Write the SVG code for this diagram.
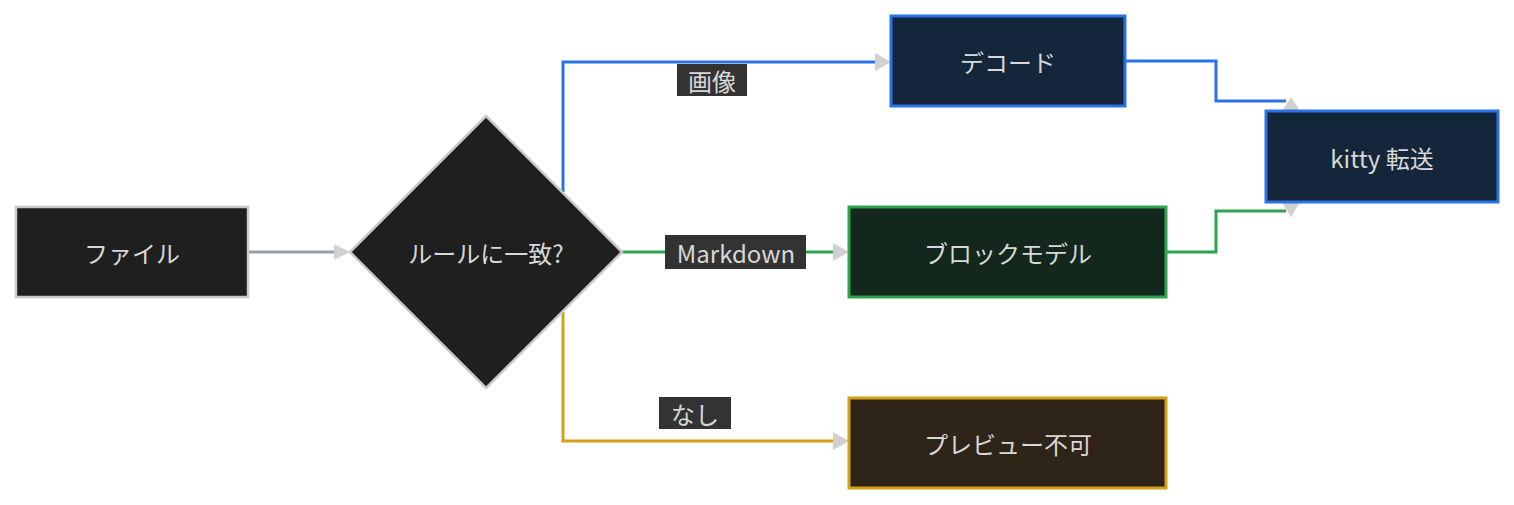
<svg xmlns="http://www.w3.org/2000/svg" width="1514" height="505" viewBox="0 0 1514 505">
<style>
text{font-family:"Noto Sans CJK JP","Noto Sans",sans-serif;font-size:24px;fill:#d8d8d8;text-anchor:middle;dominant-baseline:central}
.e{fill:none;stroke-width:3}
.lb{fill:#333}
.ah{fill:#d0d0d0}
</style>
<rect width="1514" height="505" fill="#fff"/>
<g id="connectors">
<path class="e" stroke="#9aa0a8" d="M248 252H336"/><polygon class="ah" points="334,244 350,252 334,260"/>
<path class="e" stroke="#2a72e6" d="M563 192V62H878"/><polygon class="ah" points="875,53 891,62 875,71"/>
<path class="e" stroke="#2ea44f" d="M622 252H836"/><polygon class="ah" points="833,243 849,252 833,261"/>
<path class="e" stroke="#d4a017" d="M563 312V441H836"/><polygon class="ah" points="833,432 849,441 833,450"/>
<path class="e" stroke="#2a72e6" d="M1125 61H1216V101H1286"/><polygon class="ah" points="1282,111 1291,97 1300,111"/>
<path class="e" stroke="#2ea44f" d="M1166 252H1216V211H1286"/><polygon class="ah" points="1282,202 1291,217 1300,202"/>
<rect class="lb" x="677" y="64" width="70" height="32"/><text x="712" y="80">画像</text>
<rect class="lb" x="665" y="235" width="141" height="34"/><text x="736" y="252">Markdown</text>
<rect class="lb" x="659" y="397" width="72" height="32"/><text x="695" y="413">なし</text>
</g>
<g id="file"><rect x="16" y="207" width="232" height="90" fill="#1f1f1f" stroke="#c8c8c8" stroke-width="2.5"/><text x="132" y="252">ファイル</text></g>
<g id="rule"><polygon points="486,116 622,252 486,388 350,252" fill="#1f1f1f" stroke="#c8c8c8" stroke-width="2.5"/><text x="486" y="252">ルールに一致?</text></g>
<g id="decode"><rect x="891" y="16" width="234" height="90" fill="#14263a" stroke="#2a72e6" stroke-width="3"/><text x="1008" y="61">デコード</text></g>
<g id="kitty"><rect x="1266" y="111" width="232" height="91" fill="#14263a" stroke="#2a72e6" stroke-width="3"/><text x="1382" y="157">kitty 転送</text></g>
<g id="block"><rect x="849" y="207" width="317" height="90" fill="#13271d" stroke="#2ea44f" stroke-width="3"/><text x="1008" y="252">ブロックモデル</text></g>
<g id="nopreview"><rect x="849" y="398" width="317" height="90" fill="#2e2418" stroke="#d4a017" stroke-width="3"/><text x="1008" y="443">プレビュー不可</text></g>
</svg>
